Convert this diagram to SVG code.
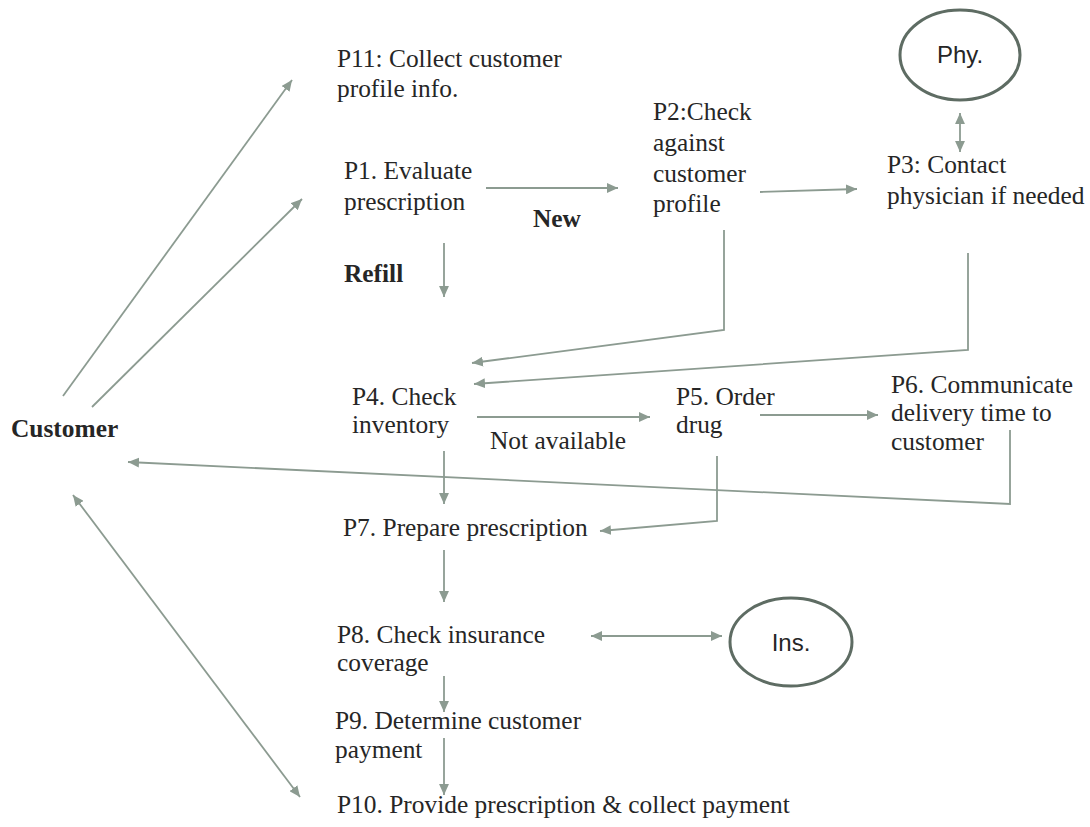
<svg xmlns="http://www.w3.org/2000/svg" width="1090" height="827" viewBox="0 0 1090 827">
  <style>
    .t { font-family: 'Liberation Serif', 'Times New Roman', serif; font-size: 25.4px; fill: #262626; }
    .b { font-weight: bold; }
    .s { font-family: 'Liberation Sans', Arial, sans-serif; font-size: 24px; fill: #262626; text-anchor: middle; }
    .c { fill: none; stroke: #8c9b91; stroke-width: 1.8; }
    .e { fill: #ffffff; stroke: #5e6c63; stroke-width: 3; }
  </style>
  <defs>
    <marker id="arrow" viewBox="0 0 10 9" refX="10" refY="4.5" markerUnits="userSpaceOnUse" markerWidth="11" markerHeight="10" orient="auto-start-reverse">
      <path d="M0,0 L10,4.5 L0,9 z" fill="#8c9b91"/>
    </marker>
  </defs>
  <rect width="1090" height="827" fill="#ffffff"/>

  <!-- connectors -->
  <g id="connectors">
    <path class="c" d="M63,396 L292,80" marker-end="url(#arrow)"/>
    <path class="c" d="M92,407 L302,199" marker-end="url(#arrow)"/>
    <path class="c" d="M486,188 L618,188" marker-end="url(#arrow)"/>
    <path class="c" d="M444,243 L444,297" marker-end="url(#arrow)"/>
    <path class="c" d="M760,192 L857,189" marker-end="url(#arrow)"/>
    <path class="c" d="M960,113 L960,152" marker-start="url(#arrow)" marker-end="url(#arrow)"/>
    <path class="c" d="M724,230 L724,330 L472,363" marker-end="url(#arrow)"/>
    <path class="c" d="M968,253 L968,350 L474,384" marker-end="url(#arrow)"/>
    <path class="c" d="M477,417 L650,417" marker-end="url(#arrow)"/>
    <path class="c" d="M760,415 L878,415" marker-end="url(#arrow)"/>
    <path class="c" d="M1010,430 L1010,504 L128,462" marker-end="url(#arrow)"/>
    <path class="c" d="M444,451 L444,504" marker-end="url(#arrow)"/>
    <path class="c" d="M717,456 L717,521 L600,531" marker-end="url(#arrow)"/>
    <path class="c" d="M444,550 L444,602" marker-end="url(#arrow)"/>
    <path class="c" d="M591,636 L722,636" marker-start="url(#arrow)" marker-end="url(#arrow)"/>
    <path class="c" d="M444,676 L444,712" marker-end="url(#arrow)"/>
    <path class="c" d="M444,738 L444,795" marker-end="url(#arrow)"/>
    <path class="c" d="M73,495 L300,797" marker-start="url(#arrow)" marker-end="url(#arrow)"/>
  </g>

  <!-- external entities -->
  <g id="phy">
    <ellipse class="e" cx="960" cy="55" rx="60" ry="45"/>
    <text class="s" x="960" y="63">Phy.</text>
  </g>
  <g id="ins">
    <ellipse class="e" cx="791" cy="642" rx="61" ry="44"/>
    <text class="s" x="791" y="651">Ins.</text>
  </g>

  <!-- actor -->
  <g id="customer">
    <text class="t b" x="11" y="437">Customer</text>
  </g>

  <!-- process steps -->
  <g id="p11">
    <text class="t" x="337" y="67">P11: Collect customer</text>
    <text class="t" x="337" y="97">profile info.</text>
  </g>
  <g id="p1">
    <text class="t" x="344" y="179">P1. Evaluate</text>
    <text class="t" x="344" y="210">prescription</text>
  </g>
  <g id="label-new">
    <text class="t b" x="533" y="227">New</text>
  </g>
  <g id="label-refill">
    <text class="t b" x="344" y="282">Refill</text>
  </g>
  <g id="p2">
    <text class="t" x="653" y="120">P2:Check</text>
    <text class="t" x="653" y="151">against</text>
    <text class="t" x="653" y="182">customer</text>
    <text class="t" x="653" y="212">profile</text>
  </g>
  <g id="p3">
    <text class="t" x="887" y="173">P3: Contact</text>
    <text class="t" x="887" y="204">physician if needed</text>
  </g>
  <g id="p4">
    <text class="t" x="352" y="405">P4. Check</text>
    <text class="t" x="352" y="433">inventory</text>
  </g>
  <g id="label-not-available">
    <text class="t" x="490" y="449">Not available</text>
  </g>
  <g id="p5">
    <text class="t" x="676" y="405">P5. Order</text>
    <text class="t" x="676" y="433">drug</text>
  </g>
  <g id="p6">
    <text class="t" x="891" y="393">P6. Communicate</text>
    <text class="t" x="891" y="421">delivery time to</text>
    <text class="t" x="891" y="450">customer</text>
  </g>
  <g id="p7">
    <text class="t" x="343" y="536">P7. Prepare prescription</text>
  </g>
  <g id="p8">
    <text class="t" x="337" y="643">P8. Check insurance</text>
    <text class="t" x="337" y="671">coverage</text>
  </g>
  <g id="p9">
    <text class="t" x="335" y="729">P9. Determine customer</text>
    <text class="t" x="335" y="758">payment</text>
  </g>
  <g id="p10">
    <text class="t" x="337" y="813">P10. Provide prescription &amp; collect payment</text>
  </g>
</svg>
